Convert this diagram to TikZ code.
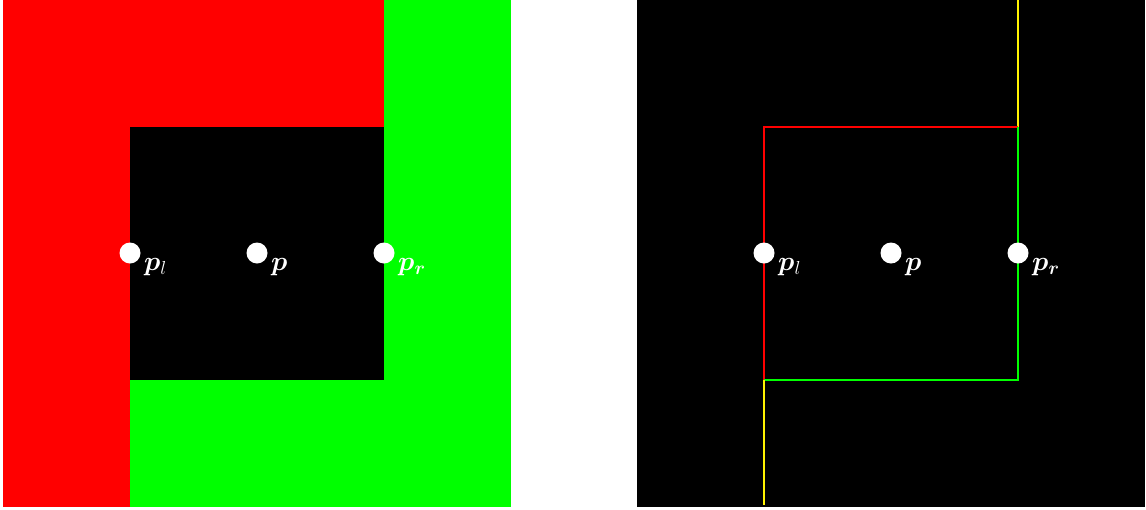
\documentclass[tikz,border=0pt]{standalone}
\usepackage{graphicx}
\usepackage{bm}
\newcommand{\biglab}[1]{\scalebox{1.09}{#1}}
\begin{document}
\begin{tikzpicture}[x=1pt,y=-1pt,
  dot/.style={circle,fill=white,inner sep=0pt,minimum size=21pt},
  lab/.style={text=white,anchor=base west,inner sep=0pt,font=\fontsize{25}{30}\selectfont},
  seg/.style={line width=2pt}]
\useasboundingbox (0,0) rectangle (1146,509);
% left panel
\fill[red] (3,0) rectangle (384,127);
\fill[red] (3,0) rectangle (130,507);
\fill[green] (384,0) rectangle (511,507);
\fill[green] (130,380) rectangle (511,507);
\fill[black] (130,127) rectangle (384,380);
% right panel
\fill[black] (637,0) rectangle (1145,507);
% left points
\node[dot] (lpl) at (130,253) {};
\node[dot] (lp) at (257,253) {};
\node[dot] (lpr) at (384,253) {};
\node[lab] (lplt) at (144,270) {\biglab{$\bm{p}_l$}};
\node[lab] (lpt) at (271,270) {\biglab{$\bm{p}$}};
\node[lab] (lprt) at (398,270) {\biglab{$\bm{p_r}$}};
% right lines
\coordinate (ytop) at (1018,0);
\coordinate (tr) at (1018,127);
\coordinate (tl) at (764,127);
\coordinate (bl) at (764,380);
\coordinate (br) at (1018,380);
\coordinate (ybot) at (764,505);
\draw[seg,yellow] (ytop) -- (tr);
\draw[seg,red,line join=miter] (tr) -- (tl) -- (bl);
\draw[seg,green,line join=miter] (tr) -- (br) -- (bl);
\draw[seg,yellow] (bl) -- (ybot);
% right points
\node[dot] (rpl) at (764,253) {};
\node[dot] (rp) at (891,253) {};
\node[dot] (rpr) at (1018,253) {};
\node[lab] (rplt) at (778,270) {\biglab{$\bm{p}_l$}};
\node[lab] (rpt) at (905,270) {\biglab{$\bm{p}$}};
\node[lab] (rprt) at (1032,270) {\biglab{$\bm{p_r}$}};
\end{tikzpicture}
\end{document}
